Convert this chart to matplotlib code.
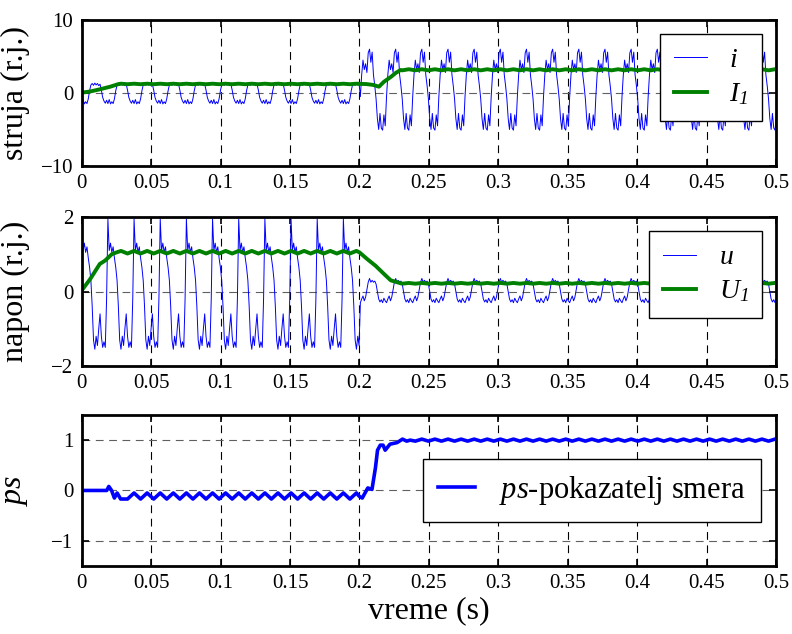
import numpy as np
import matplotlib.pyplot as plt
from matplotlib.ticker import FormatStrFormatter

plt.rcParams['font.family'] = ['Liberation Serif', 'DejaVu Serif']
plt.rcParams['mathtext.fontset'] = 'custom'
plt.rcParams['mathtext.it'] = 'Liberation Serif:italic'
# math is only used for the italic symbols, so digits there are italic too
plt.rcParams['mathtext.rm'] = 'Liberation Serif:italic'

T = 0.01884
t_fault = 0.2
t_end = 0.5

# one period of each waveform (20 samples, starting at the voltage peak)
i_pre_cycle = [-1.45, -0.9, -1.5, -1.2, -1.45, -0.8, 0.3, 1.1, 1.3, 1.05,
               1.35, 1.1, 1.3, 1.0, 1.2, 0.4, -0.6, -1.1, -1.4, -1.0]
i_post_cycle = [6.0, 4.2, 5.6, 2.5, 1.0, -0.8, -3.5, -5.0, -2.8, -4.8,
                -5.1, -3.0, -4.5, -0.5, 2.5, 4.5, 3.2, 4.0, 2.8, 5.5]
u_pre_cycle = [1.95, 1.1, 1.3, 1.05, 1.2, 0.9, 0.65, 0.3, -0.4, -1.3,
               -1.55, -1.2, -1.45, -1.0, -0.6, -1.2, -1.5, -1.35, -1.5, -0.2]
u_post_cycle = [0.35, 0.25, 0.3, 0.25, 0.28, 0.2, 0.0, -0.2, -0.28, -0.22,
                -0.3, -0.18, -0.25, -0.3, -0.2, -0.12, -0.25, -0.15, 0.05, 0.25]

# fundamental magnitudes: start-up, ripple while steady, and the change
I1_start_t = [0.0, 0.006, 0.013, 0.0205, 0.0265]
I1_start_v = [0.05, 0.2, 0.5, 0.86, 1.22]
I1_pre_ripple = [1.27, 1.2, 1.27, 1.2]
I1_step_t = [0.2, 0.205, 0.21, 0.214, 0.2177, 0.2226, 0.2262, 0.2297]
I1_step_v = [1.25, 1.22, 1.1, 0.86, 1.55, 2.2, 2.76, 3.15]
I1_post_ripple = [3.25, 3.1, 3.25, 3.1]

U1_start_t = [0.0, 0.006, 0.013, 0.0168, 0.0216, 0.025]
U1_start_v = [0.03, 0.33, 0.74, 0.83, 1.0, 1.05]
U1_pre_ripple = [1.09, 1.02, 1.09, 1.02]
U1_step_t = [0.2, 0.2056, 0.2116, 0.2177, 0.2225, 0.2297]
U1_step_v = [1.05, 0.87, 0.69, 0.47, 0.3, 0.22]
U1_post_ripple = [0.23, 0.21, 0.23, 0.21]

ps_start_t = [0.0, 0.018, 0.0195, 0.0215, 0.0235, 0.0255, 0.028]
ps_start_v = [0.0, 0.0, 0.08, 0.0, -0.15, -0.05, -0.17]
ps_pre_ripple = [-0.05, -0.17, -0.05, -0.17]
ps_step_t = [0.2, 0.202, 0.204, 0.206, 0.209, 0.2115, 0.213, 0.215, 0.217,
             0.2185, 0.222, 0.227, 0.231, 0.234, 0.2365]
ps_step_v = [-0.12, -0.15, -0.05, 0.05, 0.02, 0.45, 0.8, 0.9, 0.9,
             0.8, 0.92, 0.95, 1.02, 0.98, 1.0]
ps_post_ripple = [1.02, 0.98, 1.02, 0.98]

xticks = np.arange(0, 0.5001, 0.05)


def periodic(cycle, t0, t1):
    # repeat one read-off period over [t0, t1) keeping the phase of t = 0
    n = len(cycle)
    dt = T / n
    k = np.arange(int(np.ceil(t0 / dt)), int(np.ceil(t1 / dt)))
    return k * dt, np.asarray(cycle)[k % n]


def pieces(*parts):
    ts = np.concatenate([np.asarray(p[0], float) for p in parts])
    vs = np.concatenate([np.asarray(p[1], float) for p in parts])
    return ts, vs


t_i, i = pieces(periodic(i_pre_cycle, 0, t_fault), periodic(i_post_cycle, t_fault, t_end + 0.001))
t_u, u = pieces(periodic(u_pre_cycle, 0, t_fault), periodic(u_post_cycle, t_fault, t_end + 0.001))
t_I1, I1 = pieces((I1_start_t, I1_start_v),
                  periodic(I1_pre_ripple, I1_start_t[-1] + 0.001, I1_step_t[0]),
                  (I1_step_t, I1_step_v),
                  periodic(I1_post_ripple, I1_step_t[-1] + 0.001, t_end + 0.001))
t_U1, U1 = pieces((U1_start_t, U1_start_v),
                  periodic(U1_pre_ripple, U1_start_t[-1] + 0.001, U1_step_t[0]),
                  (U1_step_t, U1_step_v),
                  periodic(U1_post_ripple, U1_step_t[-1] + 0.001, t_end + 0.001))
t_ps, ps = pieces((ps_start_t, ps_start_v),
                  periodic(ps_pre_ripple, ps_start_t[-1] + 0.001, ps_step_t[0]),
                  (ps_step_t, ps_step_v),
                  periodic(ps_post_ripple, ps_step_t[-1] + 0.001, t_end + 0.001))

fig = plt.figure(figsize=(7.92, 6.34), dpi=100)
ax1 = fig.add_axes([0.1032, 0.7382, 0.8767, 0.2303])
ax2 = fig.add_axes([0.1032, 0.4227, 0.8767, 0.2350])
ax3 = fig.add_axes([0.1032, 0.1073, 0.8767, 0.2382])

ax1.plot(t_i, i, color='#0000ff', lw=0.7, label=r'$i$')
ax1.plot(t_I1, I1, color='#008000', lw=2.8, label=r'$I_1$')
ax1.set_ylim(-10, 10)
ax1.set_yticks([-10, 0, 10])
ax1.set_ylabel('struja (r.j.)', fontsize=23)

ax2.plot(t_u, u, color='#0000ff', lw=0.7, label=r'$u$')
ax2.plot(t_U1, U1, color='#008000', lw=2.8, label=r'$U_1$')
ax2.set_ylim(-2, 2)
ax2.set_yticks([-2, 0, 2])
ax2.set_ylabel('napon (r.j.)', fontsize=23)

ax3.plot(t_ps, ps, color='#0000ff', lw=2.6, label=r'$ps$-pokazatelj smera')
ax3.set_ylim(-1.5, 1.5)
ax3.set_yticks([-1, 0, 1])
ax3.set_ylabel(r'$ps$', fontsize=23)
ax3.set_xlabel('vreme (s)', fontsize=23)
ax3.xaxis.set_label_coords(0.5, -0.2)

for ax in (ax1, ax2, ax3):
    ax.set_xlim(0, t_end)
    ax.set_xticks(xticks)
    ax.xaxis.set_major_formatter(FormatStrFormatter('%g'))
    ax.tick_params(direction='in', top=True, right=True, length=5, width=1.2,
                   labelsize=15, pad=6)
    for s in ax.spines.values():
        s.set_linewidth(2)
    ax.grid(True, axis='x', color='k', linestyle=(0, (7, 5)), linewidth=0.8)
    ax.grid(True, axis='y', color='#606060', linestyle=(0, (7, 5)), linewidth=0.8)
    ax.yaxis.set_label_coords(-0.075, 0.5)

leg_kw = dict(fancybox=False, framealpha=1, edgecolor='k', handlelength=1.2,
              borderpad=0.5)
l1 = ax1.legend(loc='upper right', fontsize=20, labelspacing=0.3, **leg_kw)
l2 = ax2.legend(loc='upper right', fontsize=20, labelspacing=0.3, **leg_kw)
l3 = ax3.legend(loc='center right', fontsize=22, **leg_kw)
for lg in (l1, l2, l3):
    lg.get_frame().set_linewidth(1)

fig.savefig('out.png', dpi=100)
